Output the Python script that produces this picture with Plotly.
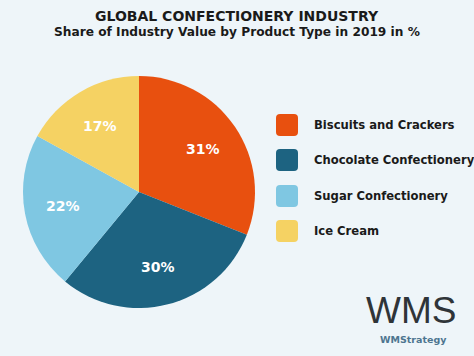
import math
import plotly.graph_objects as go

categories = ["Biscuits and Crackers", "Chocolate Confectionery", "Sugar Confectionery", "Ice Cream"]
values = [31, 30, 22, 17]
colors = ["#E8500F", "#1D6381", "#7FC7E2", "#F5D263"]

W, H = 474, 356

def px(x):
    return x / W

def py(y):
    return 1 - y / H

# pie geometry (pixels)
CX, CY, R = 139, 192, 116

fig = go.Figure(go.Pie(
    labels=categories, values=values, sort=False, direction="clockwise", rotation=0,
    marker=dict(colors=colors, line=dict(width=0)),
    textinfo="none",
    domain=dict(x=[px(CX - R), px(CX + R)], y=[py(CY + R), py(CY - R)]),
    showlegend=False, hoverinfo="label+percent",
))

shapes = []
annotations = []

# slice labels placed at ~2/3 of the radius along each slice's mid-angle
total = sum(values)
cum = 0
for v in values:
    mid = (cum + v / 2) / total * 2 * math.pi
    cum += v
    d = 0.665 * R
    lx = CX + d * math.sin(mid)
    ly = CY - d * math.cos(mid)
    annotations.append(dict(x=px(lx), y=py(ly), xref="paper", yref="paper", text=f"<b>{v}%</b>",
                            showarrow=False, xanchor="center", yanchor="middle",
                            font=dict(family="DejaVu Sans", size=14, color="white")))

row_y = [125, 160, 196, 231]
for cat, col, yc in zip(categories, colors, row_y):
    x0, x1 = 276, 298
    y0, y1 = yc - 11, yc + 11
    r = 4
    path = (f"M {px(x0 + r)} {py(y0)} L {px(x1 - r)} {py(y0)} Q {px(x1)} {py(y0)} {px(x1)} {py(y0 + r)} "
            f"L {px(x1)} {py(y1 - r)} Q {px(x1)} {py(y1)} {px(x1 - r)} {py(y1)} "
            f"L {px(x0 + r)} {py(y1)} Q {px(x0)} {py(y1)} {px(x0)} {py(y1 - r)} "
            f"L {px(x0)} {py(y0 + r)} Q {px(x0)} {py(y0)} {px(x0 + r)} {py(y0)} Z")
    shapes.append(dict(type="path", xref="paper", yref="paper", path=path, fillcolor=col, line=dict(width=0)))
    annotations.append(dict(x=px(312), y=py(yc), xref="paper", yref="paper", text=f"<b>{cat}</b>",
                            showarrow=False, xanchor="left", yanchor="middle",
                            font=dict(family="DejaVu Sans", size=11.6, color="#1a1a1a")))

annotations += [
    dict(x=px(237), y=py(16), xref="paper", yref="paper", text="<b>GLOBAL CONFECTIONERY INDUSTRY</b>",
         showarrow=False, xanchor="center", yanchor="middle", font=dict(family="DejaVu Sans", size=14, color="#1a1a1a")),
    dict(x=px(237), y=py(32), xref="paper", yref="paper", text="<b>Share of Industry Value by Product Type in 2019 in %</b>",
         showarrow=False, xanchor="center", yanchor="middle", font=dict(family="DejaVu Sans", size=12.2, color="#1a1a1a")),
    dict(x=px(411), y=py(310), xref="paper", yref="paper", text="WMS",
         showarrow=False, xanchor="center", yanchor="middle", font=dict(family="Liberation Sans", size=37, color="#2f3438")),
    dict(x=px(413), y=py(339), xref="paper", yref="paper", text="<b>WMStrategy</b>",
         showarrow=False, xanchor="center", yanchor="middle", font=dict(family="DejaVu Sans", size=9.5, color="#4d7590")),
]

fig.update_layout(
    width=W, height=H, margin=dict(l=0, r=0, t=0, b=0),
    paper_bgcolor="#EEF5F9", plot_bgcolor="#EEF5F9",
    shapes=shapes, annotations=annotations,
)

fig.write_html("out.html", config={"displayModeBar": False},
               post_script="document.body.style.margin='0';")
